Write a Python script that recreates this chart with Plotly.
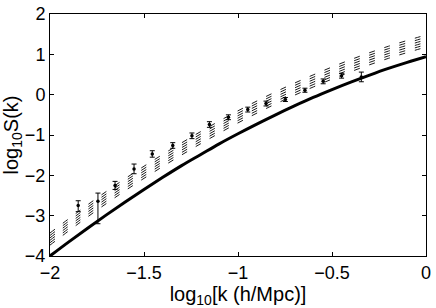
import plotly.graph_objects as go

# Solid model curve
x_solid = [-2.0, -1.9, -1.8, -1.7, -1.6, -1.5, -1.4, -1.3, -1.2, -1.1, -1.0,
           -0.9, -0.8, -0.7, -0.6, -0.5, -0.4, -0.3, -0.2, -0.1, 0.0]
y_solid = [-4.00, -3.65, -3.31, -2.98, -2.66, -2.35, -2.05, -1.76, -1.49, -1.22, -0.97,
           -0.73, -0.50, -0.28, -0.07, 0.125, 0.31, 0.485, 0.65, 0.80, 0.94]

# Dashed curves
x_dash = [-2.0, -1.8, -1.6, -1.4, -1.2, -1.0, -0.8, -0.6, -0.4, -0.2, 0.0]
dash1 = [-3.43, -2.73, -2.08, -1.48, -0.92, -0.40, 0.07, 0.49, 0.87, 1.20, 1.48]
dash2 = [-3.49, -2.79, -2.14, -1.54, -0.98, -0.46, 0.01, 0.43, 0.81, 1.14, 1.42]
dash3 = [-3.55, -2.85, -2.20, -1.60, -1.04, -0.52, -0.05, 0.37, 0.75, 1.08, 1.36]
dash4 = [-3.61, -2.91, -2.26, -1.66, -1.10, -0.58, -0.11, 0.31, 0.69, 1.02, 1.30]
dash5 = [-3.67, -2.97, -2.32, -1.72, -1.16, -0.64, -0.17, 0.25, 0.63, 0.96, 1.24]
dash6 = [-3.73, -3.03, -2.38, -1.78, -1.22, -0.70, -0.23, 0.19, 0.57, 0.90, 1.18]

# Data points with error bars
x_data = [-1.850, -1.745, -1.654, -1.553, -1.456, -1.347, -1.245, -1.152,
          -1.051, -0.948, -0.851, -0.748, -0.644, -0.547, -0.449, -0.344]
y_data = [-2.75, -2.64, -2.25, -1.84, -1.47, -1.26, -1.02, -0.74,
          -0.56, -0.37, -0.22, -0.12, 0.11, 0.33, 0.47, 0.44]
err_plus = [0.12, 0.20, 0.10, 0.12, 0.08, 0.07, 0.07, 0.07,
            0.06, 0.06, 0.06, 0.05, 0.05, 0.06, 0.06, 0.12]
err_minus = [0.15, 0.56, 0.10, 0.12, 0.08, 0.07, 0.07, 0.07,
             0.06, 0.06, 0.06, 0.05, 0.05, 0.06, 0.06, 0.12]

x_ticks = [-2, -1.5, -1, -0.5, 0]
x_ticklabels = ["\u22122", "\u22121.5", "\u22121", "\u22120.5", "0"]
y_ticks = [-4, -3, -2, -1, 0, 1, 2]
y_ticklabels = ["\u22124", "\u22123", "\u22122", "\u22121", "0", "1", "2"]

fig = go.Figure()

for d in [dash1, dash2, dash3, dash4, dash5, dash6]:
    fig.add_trace(go.Scatter(x=x_dash, y=d, mode="lines",
                             line=dict(color="black", width=0.9, dash="6px,10px", shape="spline"),
                             showlegend=False, hoverinfo="skip"))

fig.add_trace(go.Scatter(x=x_solid, y=y_solid, mode="lines",
                         line=dict(color="black", width=3, shape="spline"),
                         showlegend=False))

fig.add_trace(go.Scatter(x=x_data, y=y_data, mode="markers",
                         marker=dict(color="black", size=3.5),
                         error_y=dict(type="data", symmetric=False, array=err_plus,
                                      arrayminus=err_minus, color="black",
                                      thickness=1, width=2.5),
                         showlegend=False))

font = "Liberation Sans, Arial, Helvetica, sans-serif"
axis_common = dict(showline=True, linecolor="black", linewidth=1, mirror="ticks",
                   ticks="inside", ticklen=4, tickcolor="black", showgrid=False,
                   zeroline=False, automargin=False, ticklabeloverflow="allow",
                   tickfont=dict(family=font, size=18, color="black"))

fig.update_layout(
    width=436, height=308,
    margin=dict(l=50, r=10, t=14, b=52),
    paper_bgcolor="white", plot_bgcolor="white",
    xaxis=dict(range=[-2, 0], tickvals=x_ticks, ticktext=x_ticklabels,
               title=dict(text="log<sub>10</sub>[k (h/Mpc)]",
                          font=dict(family=font, size=20, color="black"), standoff=0),
               **axis_common),
    yaxis=dict(range=[-4, 2], tickvals=y_ticks, ticktext=y_ticklabels,
               title=dict(text="log<sub>10</sub>S(k)",
                          font=dict(family=font, size=20, color="black"), standoff=2),
               **axis_common),
)

fig.write_html("out.html", config={"displayModeBar": False},
               post_script="document.body.style.margin='0px';")
